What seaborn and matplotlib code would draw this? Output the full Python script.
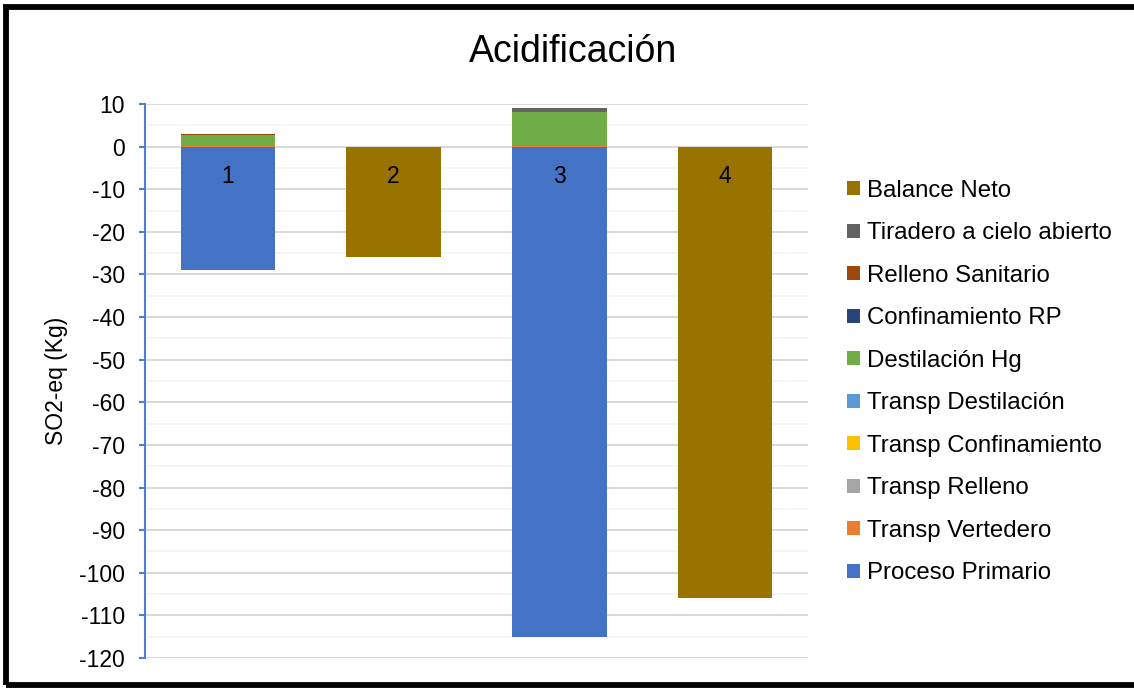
import matplotlib
matplotlib.use("Agg")
import matplotlib.pyplot as plt
import matplotlib.patches as mpatches
from matplotlib.ticker import MultipleLocator
import numpy as np
import seaborn as sns

# Scenarios on the category axis
categories = ["1", "2", "3", "4"]

# Contributions per stage (kg SO2-eq), stacked in this order
series_names = [
    "Proceso Primario",
    "Transp Vertedero",
    "Transp Relleno",
    "Transp Confinamiento",
    "Transp Destilación",
    "Destilación Hg",
    "Confinamiento RP",
    "Relleno Sanitario",
    "Tiradero a cielo abierto",
    "Balance Neto",
]
proceso_primario = [-29.0, 0.0, -115.0, 0.0]
transp_vertedero = [0.15, 0.0, 0.1, 0.0]
transp_relleno = [0.1, 0.0, 0.1, 0.0]
transp_confinamiento = [0.0, 0.0, 0.05, 0.0]
transp_destilacion = [0.0, 0.0, 0.05, 0.0]
destilacion_hg = [2.5, 0.0, 7.9, 0.0]
confinamiento_rp = [0.0, 0.0, 0.0, 0.0]
relleno_sanitario = [0.25, 0.0, 0.0, 0.0]
tiradero = [0.0, 0.0, 0.9, 0.0]
balance_neto = [0.0, -26.0, 0.0, -106.0]

series_values = [
    proceso_primario, transp_vertedero, transp_relleno, transp_confinamiento,
    transp_destilacion, destilacion_hg, confinamiento_rp, relleno_sanitario,
    tiradero, balance_neto,
]
series_colors = [
    "#4472C4", "#ED7D31", "#A5A5A5", "#FFC000", "#5B9BD5",
    "#70AD47", "#264478", "#9E480E", "#636363", "#997300",
]

sns.set_theme(style="white")
plt.rcParams["font.family"] = ["Liberation Sans", "DejaVu Sans"]
plt.rcParams["axes.unicode_minus"] = False
plt.rcParams["text.color"] = "black"

fig = plt.figure(figsize=(11.34, 6.88), dpi=100)
ax = fig.add_axes([0.1279, 0.0436, 0.7125 - 0.1279, 0.8488 - 0.0436])

pos_base = np.zeros(len(categories))
neg_base = np.zeros(len(categories))
for name, vals, col in zip(series_names, series_values, series_colors):
    v = np.asarray(vals, dtype=float)
    bottom = np.where(v >= 0, pos_base, neg_base)
    sns.barplot(x=categories, y=v, order=categories, color=col, saturation=1,
                width=0.57, bottom=bottom, linewidth=0, errorbar=None,
                ax=ax, zorder=2)
    pos_base = pos_base + np.where(v > 0, v, 0)
    neg_base = neg_base + np.where(v < 0, v, 0)

ax.set_xlim(-0.5, len(categories) - 0.5)
ax.set_ylim(-120, 10)
ax.yaxis.set_major_locator(MultipleLocator(10))
ax.yaxis.set_minor_locator(MultipleLocator(5))
ax.grid(False)
ax.yaxis.grid(True, which="major", color="#d9d9d9", linewidth=1.4, zorder=0)
ax.yaxis.grid(True, which="minor", color="#f5f5f5", linewidth=1.4, zorder=0)
ax.set_axisbelow(True)

for side in ("top", "right", "bottom"):
    ax.spines[side].set_visible(False)
ax.spines["left"].set_color("#4f7fd4")
ax.spines["left"].set_linewidth(1.5)
ax.tick_params(axis="y", which="major", direction="out", length=4.3, width=1.5,
               color="#4f7fd4", labelsize=16.5, pad=10, left=True,
               labelcolor="black")
ax.tick_params(axis="y", which="minor", length=0)
ax.tick_params(axis="x", length=0, labelbottom=False)
ax.set_xlabel("")
ax.set_ylabel("SO2-eq (Kg)", fontsize=16.5, labelpad=8, color="black")

# Category labels sitting just under the zero line
for i, cat in enumerate(categories):
    ax.annotate(cat, xy=(i, 0), xytext=(0, -21.5), textcoords="offset points",
                ha="center", va="center", fontsize=16.5, color="black",
                zorder=5)

fig.text(0.505, 0.924, "Acidificación", ha="center", va="center",
         fontsize=27, color="black")

handles = [mpatches.Patch(facecolor=c, edgecolor="none", label=n)
           for n, c in zip(series_names, series_colors)][::-1]
fig.legend(handles=handles, loc="upper left", bbox_to_anchor=(0.7473, 0.739),
           frameon=False, fontsize=17.3, handlelength=0.52, handleheight=0.52,
           handletextpad=0.3, labelspacing=0.855, borderaxespad=0,
           borderpad=0, labelcolor="black")

# Outer chart border
fig.add_artist(mpatches.Rectangle((5.5 / 1134, 1 - 684.5 / 688),
                                  1.05, (684.5 - 7) / 688,
                                  transform=fig.transFigure, fill=False,
                                  edgecolor="black", linewidth=4.2,
                                  clip_on=False))

fig.savefig("out.png", dpi=100)
